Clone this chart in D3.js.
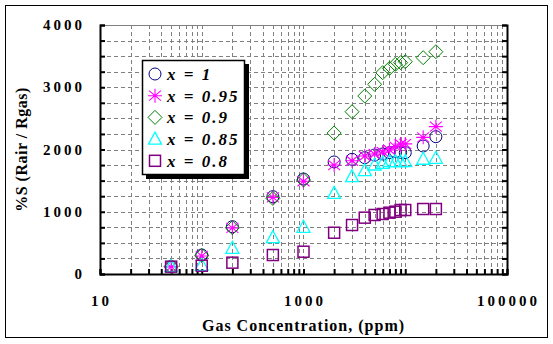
<!DOCTYPE html>
<html>
<head>
<meta charset="utf-8">
<script src="https://cdn.jsdelivr.net/npm/d3@7"></script>
<style>
  body { margin: 0; background: #fff; }
  text { font-family: "Liberation Serif", "Times New Roman", serif; font-weight: bold; }
</style>
</head>
<body>
<script>
let w = 553;
let h = 344;

// gas concentration (ppm)
let conc = [50, 100, 200, 500, 1000, 2000, 3000, 4000, 5000, 6000, 7000, 8000, 9000, 10000, 15000, 20000];

let x100 = [118, 305, 760, 1242, 1526, 1800, 1842, 1869, 1912, 1928, 1949, 1965, 1955, 1949, 2056, 2206];
let x095 = [115, 290, 740, 1230, 1490, 1750, 1820, 1895, 1928, 1960, 1992, 2045, 2088, 2090, 2195, 2367];
let x090 = [120, 300, 745, 1215, 1510, 2265, 2607, 2859, 3047, 3234, 3304, 3368, 3395, 3411, 3475, 3571];
let x085 = [118, 140, 413, 583, 750, 1296, 1563, 1660, 1751, 1778, 1804, 1804, 1804, 1804, 1843, 1859];
let x080 = [118, 133, 182, 305, 358, 663, 787, 905, 948, 964, 985, 1001, 1028, 1028, 1044, 1044];

let yTicks = [0, 1000, 2000, 3000, 4000];
let xTicks = [10, 1000, 100000];

let series = [
  { label: "x = 1", vals: x100, color: "#000080", shape: "circle" },
  { label: "x = 0.95", vals: x095, color: "#ff00ff", shape: "star" },
  { label: "x = 0.9", vals: x090, color: "#008000", shape: "diamond" },
  { label: "x = 0.85", vals: x085, color: "#00ffff", shape: "triangle" },
  { label: "x = 0.8", vals: x080, color: "#800080", shape: "square" }
];

let pl = 100, pr = 507, pt = 25, pb = 274;

let svg = d3.select("body").append("svg").attr("width", w).attr("height", h);

svg.append("rect").attr("x", 5.5).attr("y", 5.5).attr("width", 542).attr("height", 332)
  .attr("fill", "#fff").attr("stroke", "#000").attr("stroke-width", 1);

let xScale = d3.scaleLog().domain([10, 100000]).range([pl, pr]);
let yScale = d3.scaleLinear().domain([0, 4000]).range([pb, pt]);

// minor log ticks
let minorX = [];
[10, 100, 1000, 10000].forEach((d) => {
  for (let k = 1; k < 10; k++) minorX.push(d * k);
});
minorX.push(100000);
let minorY = d3.range(0, 4001, 250);

// grid
svg.append("g").selectAll("line").data(minorX.filter((d) => d > 10 && d < 100000)).enter()
  .append("line")
  .attr("x1", (d) => Math.round(xScale(d)) + 0.5).attr("x2", (d) => Math.round(xScale(d)) + 0.5)
  .attr("y1", pt).attr("y2", pb)
  .attr("stroke", "#808080").attr("stroke-dasharray", "4,3");
svg.append("g").selectAll("line").data(minorY.filter((d) => d > 0 && d < 4000)).enter()
  .append("line")
  .attr("y1", (d) => Math.round(yScale(d)) + 0.5).attr("y2", (d) => Math.round(yScale(d)) + 0.5)
  .attr("x1", pl).attr("x2", pr)
  .attr("stroke", "#808080").attr("stroke-dasharray", "4,3");

// top border
svg.append("line").attr("x1", pl).attr("x2", pr).attr("y1", pt + 0.5).attr("y2", pt + 0.5)
  .attr("stroke", "#808080");

// axes
let xAxis = d3.axisBottom(xScale).tickValues(minorX).tickSize(-5).tickFormat("");
svg.append("g").attr("transform", "translate(0," + pb + ")").call(xAxis)
  .call((g) => g.selectAll("line,path").attr("stroke", "#000").attr("stroke-width", 2));

let yAxis = d3.axisLeft(yScale).tickValues(minorY).tickSize(-5).tickFormat("");
svg.append("g").attr("transform", "translate(" + pl + ",0)").call(yAxis)
  .call((g) => g.selectAll("line,path").attr("stroke", "#000").attr("stroke-width", 2));

let yAxisR = d3.axisRight(yScale).tickValues(minorY).tickSize(-5).tickFormat("");
svg.append("g").attr("transform", "translate(" + pr + ",0)").call(yAxisR)
  .call((g) => g.selectAll("line,path").attr("stroke", "#000").attr("stroke-width", 2));

// tick labels
svg.append("g").selectAll("text").data(yTicks).enter().append("text")
  .attr("x", 85).attr("y", (d) => yScale(d) + 5)
  .attr("text-anchor", "end").style("font-size", "15px").style("letter-spacing", "3px").text((d) => d);
svg.append("g").selectAll("text").data(xTicks).enter().append("text")
  .attr("x", (d) => xScale(d) + 1.5).attr("y", 306)
  .attr("text-anchor", "middle").style("font-size", "15px").style("letter-spacing", "3px").text((d) => d);

// axis titles
svg.append("text").attr("x", (pl + pr) / 2).attr("y", 331)
  .attr("text-anchor", "middle").style("font-size", "16px").style("letter-spacing", "1px")
  .text("Gas Concentration, (ppm)");
svg.append("text").attr("transform", "translate(27," + (pt + pb) / 2 + ") rotate(-90)")
  .attr("text-anchor", "middle").style("font-size", "16px").style("letter-spacing", "0.5px")
  .text("%S (Rair / Rgas)");

function drawMarker(g, shape, color) {
  if (shape === "circle") {
    g.append("circle").attr("r", 6).attr("fill", "none").attr("stroke", color);
  } else if (shape === "square") {
    g.append("rect").attr("x", -5.5).attr("y", -5.5).attr("width", 11).attr("height", 11)
      .attr("fill", "none").attr("stroke", color).attr("stroke-width", 1.5);
  } else if (shape === "diamond") {
    g.append("path").attr("d", "M0,-7L7,0L0,7L-7,0Z").attr("fill", "none").attr("stroke", color);
  } else if (shape === "triangle") {
    g.append("path").attr("d", "M0,-7L6.5,5L-6.5,5Z").attr("fill", "none").attr("stroke", color).attr("stroke-width", 1.3);
  } else if (shape === "star") {
    g.append("path").attr("d", "M0,-7V7M-6,-5L6,5M-6,5L6,-5M-7,0H7")
      .attr("fill", "none").attr("stroke", color).attr("stroke-width", 1.1);
  }
}

// points
series.forEach((s) => {
  svg.append("g").selectAll("g").data(s.vals).enter().append("g")
    .attr("transform", (d, i) => "translate(" + xScale(conc[i]) + "," + yScale(d) + ")")
    .each(function () { drawMarker(d3.select(this), s.shape, s.color); });
});

// legend
let lg = svg.append("g");
lg.append("rect").attr("x", 146).attr("y", 64).attr("width", 103).attr("height", 115).attr("fill", "#000");
lg.append("rect").attr("x", 142.5).attr("y", 60.5).attr("width", 102).attr("height", 114)
  .attr("fill", "#fff").attr("stroke", "#000").attr("stroke-width", 1.5);
series.forEach((s, i) => {
  let yy = 74 + i * 21.7;
  let g = lg.append("g").attr("transform", "translate(155," + yy + ")");
  drawMarker(g, s.shape, s.color);
  lg.append("text").attr("x", 167).attr("y", yy + 6)
    .style("font-size", "17px").style("font-style", "italic").style("letter-spacing", "2px").text(s.label);
});
</script>
</body>
</html>
